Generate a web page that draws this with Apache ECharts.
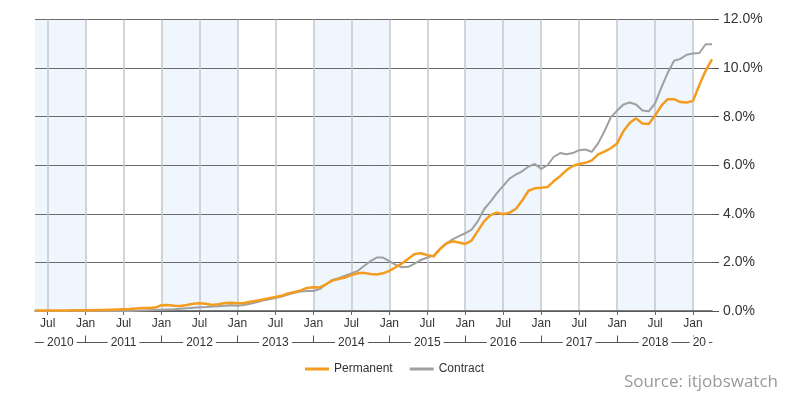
<!DOCTYPE html>
<html>
<head>
<meta charset="utf-8">
<script src="https://cdn.jsdelivr.net/npm/echarts@6/dist/echarts.min.js"></script>
<style>html,body{margin:0;padding:0;background:#fff}#c{width:800px;height:396px}</style>
</head>
<body>
<div id="c"></div>
<script>
const months = [
'2010-05','2010-06','2010-07','2010-08','2010-09','2010-10','2010-11','2010-12',
'2011-01','2011-02','2011-03','2011-04','2011-05','2011-06','2011-07','2011-08','2011-09','2011-10','2011-11','2011-12',
'2012-01','2012-02','2012-03','2012-04','2012-05','2012-06','2012-07','2012-08','2012-09','2012-10','2012-11','2012-12',
'2013-01','2013-02','2013-03','2013-04','2013-05','2013-06','2013-07','2013-08','2013-09','2013-10','2013-11','2013-12',
'2014-01','2014-02','2014-03','2014-04','2014-05','2014-06','2014-07','2014-08','2014-09','2014-10','2014-11','2014-12',
'2015-01','2015-02','2015-03','2015-04','2015-05','2015-06','2015-07','2015-08','2015-09','2015-10','2015-11','2015-12',
'2016-01','2016-02','2016-03','2016-04','2016-05','2016-06','2016-07','2016-08','2016-09','2016-10','2016-11','2016-12',
'2017-01','2017-02','2017-03','2017-04','2017-05','2017-06','2017-07','2017-08','2017-09','2017-10','2017-11','2017-12',
'2018-01','2018-02','2018-03','2018-04','2018-05','2018-06','2018-07','2018-08','2018-09','2018-10','2018-11','2018-12',
'2019-01','2019-02','2019-03','2019-04'
];

const permanent = [
0.02,0.02,0.02,0.02,0.02,0.02,0.03,0.03,
0.03,0.03,0.04,0.04,0.05,0.06,0.07,0.08,0.10,0.12,0.12,0.14,
0.24,0.25,0.22,0.21,0.25,0.30,0.32,0.30,0.25,0.28,0.33,0.34,
0.32,0.33,0.38,0.42,0.47,0.53,0.58,0.63,0.72,0.78,0.85,0.95,
0.98,0.97,1.10,1.25,1.32,1.38,1.48,1.55,1.57,1.52,1.50,1.55,
1.65,1.80,1.96,2.15,2.35,2.38,2.30,2.25,2.55,2.78,2.87,2.82,
2.76,2.90,3.30,3.70,3.95,4.05,3.98,4.05,4.20,4.55,4.95,5.05,
5.07,5.10,5.35,5.55,5.80,5.97,6.05,6.10,6.20,6.45,6.56,6.70,
6.90,7.40,7.75,7.93,7.72,7.70,8.05,8.45,8.72,8.72,8.60,8.58,
8.65,9.30,9.90,10.36
];

const contract = [
0,0,0,0,0,0,0,0,
0,0,0,0,0,0,0,0,0.01,0.02,0.03,0.04,
0.05,0.06,0.07,0.09,0.11,0.13,0.15,0.16,0.18,0.20,0.22,0.24,
0.22,0.25,0.30,0.36,0.43,0.48,0.53,0.60,0.68,0.75,0.80,0.82,
0.82,0.90,1.10,1.28,1.35,1.45,1.55,1.65,1.85,2.05,2.20,2.20,
2.05,1.90,1.80,1.82,1.95,2.10,2.20,2.28,2.55,2.78,2.95,3.08,
3.20,3.35,3.70,4.20,4.50,4.85,5.15,5.45,5.62,5.75,5.95,6.05,
5.85,6.00,6.35,6.50,6.45,6.50,6.62,6.65,6.55,6.90,7.40,7.97,
8.25,8.50,8.58,8.50,8.25,8.22,8.55,9.20,9.80,10.30,10.38,10.55,
10.60,10.62,10.98,10.98
];

const seriesNames = ['Permanent', 'Contract'];
const yTicks = [0, 2, 4, 6, 8, 10, 12];
const monthLabels = {'01': 'Jan', '07': 'Jul'};
const yearLabelCats = ['2010-09','2011-07','2012-07','2013-07','2014-07','2015-07','2016-07','2017-07','2018-07','2019-02'];
const yearLabelText = ['2010','2011','2012','2013','2014','2015','2016','2017','2018','20'];
const shadedStart = ['2010-05','2012-01','2014-01','2016-01','2018-01'];
const shadedEnd   = ['2011-01','2013-01','2015-01','2017-01','2019-01'];
const sourceText = 'Source: itjobswatch';

const isHalfYear = (i, v) => v.endsWith('-01') || v.endsWith('-07');
const isJan = (i, v) => v.endsWith('-01');

const chart = echarts.init(document.getElementById('c'), null, {renderer: 'canvas'});
chart.setOption({
  animation: false,
  backgroundColor: '#fff',
  textStyle: {fontFamily: 'Arial, "Liberation Sans", sans-serif'},
  title: {
    text: sourceText, right: 17, top: 369,
    textStyle: {color: '#9a9a9a', fontSize: 17, fontWeight: 'normal', fontFamily: '"Open Sans", sans-serif'}
  },
  legend: {
    data: seriesNames, left: 300, top: 358, itemWidth: 24, itemHeight: 3, itemGap: 17,
    icon: 'rect',
    textStyle: {color: '#333', fontSize: 12, fontFamily: 'Arial, "Liberation Sans", sans-serif'}
  },
  grid: {left: 35, right: 88, top: 19.5, bottom: 85},
  xAxis: [{
    type: 'category', data: months, boundaryGap: false, position: 'bottom',
    axisLine: {lineStyle: {color: '#555', width: 1.5}},
    axisTick: {interval: isHalfYear, length: 4, lineStyle: {color: '#666'}},
    axisLabel: {interval: isHalfYear, margin: 7, color: '#333', fontSize: 12,
      formatter: v => monthLabels[v.slice(5)] || ''},
    splitLine: {show: true, interval: isHalfYear, lineStyle: {color: '#c4c7ca', width: 1.5}}
  }, {
    type: 'category', data: months, boundaryGap: false, position: 'bottom', offset: 31.5,
    axisLine: {lineStyle: {color: '#555', width: 1}},
    axisTick: {interval: isJan, inside: true, length: 7, lineStyle: {color: '#555'}},
    axisLabel: {interval: (i, v) => yearLabelCats.includes(v), margin: 0, verticalAlign: 'middle',
      color: '#333', fontSize: 12, backgroundColor: '#fff', padding: [0, 3],
      formatter: v => yearLabelText[yearLabelCats.indexOf(v)] || ''},
    splitLine: {show: false}
  }],
  yAxis: {
    type: 'value', position: 'right', min: yTicks[0], max: yTicks[yTicks.length - 1], interval: 2,
    axisLine: {show: false},
    axisTick: {show: true, length: 7, lineStyle: {color: '#555'}},
    axisLabel: {margin: 11, color: '#333', fontSize: 14, formatter: v => v.toFixed(1) + '%'},
    splitLine: {lineStyle: {color: '#6b6b6b', width: 1}}
  },
  series: [{
    name: seriesNames[1], type: 'line', data: contract, showSymbol: false, symbol: 'none',
    lineStyle: {color: '#a0a0a0', width: 2}, itemStyle: {color: '#a0a0a0'}, z: 2,
    markArea: {
      silent: true, z: -1,
      itemStyle: {color: '#f0f6fd'},
      data: shadedStart.map((s, k) => [{xAxis: s}, {xAxis: shadedEnd[k]}])
    }
  }, {
    name: seriesNames[0], type: 'line', data: permanent, showSymbol: false, symbol: 'none',
    lineStyle: {color: '#f39c1f', width: 2.5}, itemStyle: {color: '#f39c1f'}, z: 3
  }]
});
</script>
</body>
</html>
